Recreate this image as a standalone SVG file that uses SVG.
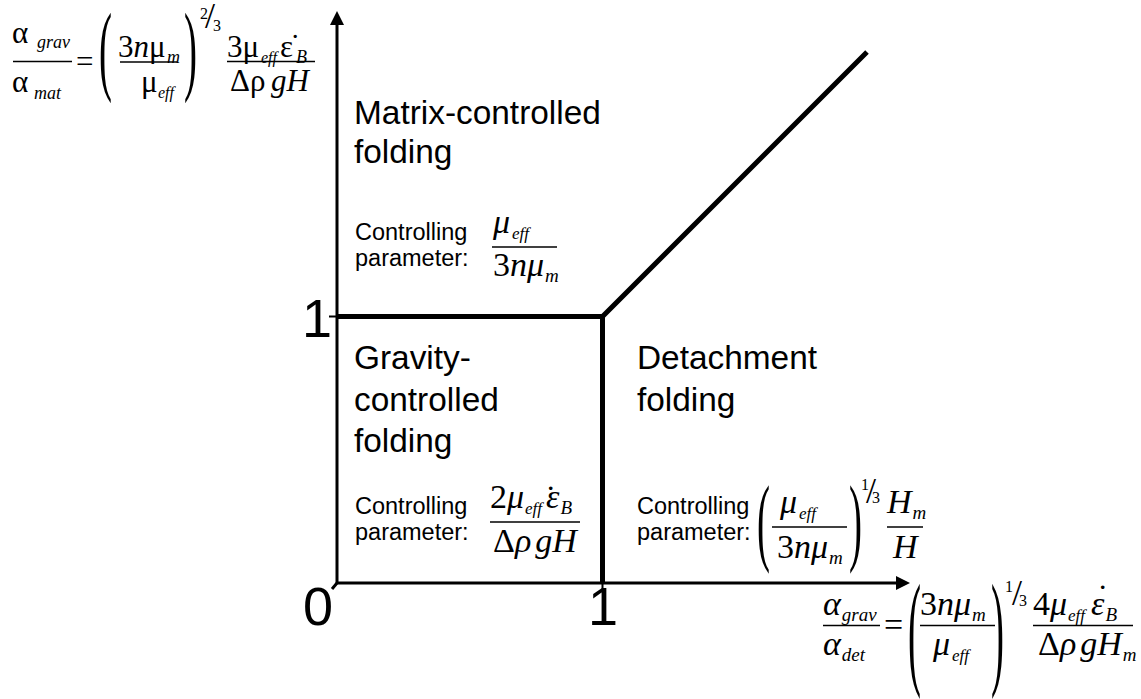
<svg xmlns="http://www.w3.org/2000/svg" width="1141" height="699" viewBox="0 0 1141 699">
<style>
.lbl{font-family:"Liberation Sans",Arial,sans-serif;fill:#000}
.big{font-size:33.4px}
.cp{font-size:23.5px}
.num{font-size:54px}
.m{font-family:"Liberation Serif","Times New Roman",serif;font-size:31px;fill:#000}
.n{font-family:"Liberation Serif","Times New Roman",serif;font-size:34px;fill:#000}
.i{font-style:italic}
.s{font-family:"Liberation Serif","Times New Roman",serif;font-size:18px;font-style:italic;fill:#000}
.sb{font-size:19px;font-style:italic}
.fb{font-size:17px;font-style:italic}
.f{font-family:"Liberation Serif","Times New Roman",serif;font-size:16px;font-style:italic;fill:#000}
.e{font-family:"Liberation Serif","Times New Roman",serif;font-size:16px;fill:#000}
.sl{font-family:"Liberation Serif","Times New Roman",serif;font-size:36px;fill:#000}
.p{font-family:"Liberation Serif","Times New Roman",serif;font-size:26px;fill:#000}
.bar{stroke:#000;stroke-width:1.7}
.axis{stroke:#000;stroke-width:3;fill:none}
.bound{stroke:#000;stroke-width:5;fill:none}
</style>
<defs>
<marker id="arr" viewBox="0 0 14 14" markerWidth="14" markerHeight="14" refX="0" refY="7" orient="auto" markerUnits="userSpaceOnUse">
<path d="M0,0 L14,7 L0,14 z" fill="#000"/>
</marker>
</defs>

<g id="connectors">
<line class="axis" x1="337" y1="584" x2="337" y2="25" marker-end="url(#arr)"/>
<line class="axis" x1="336" y1="583" x2="896" y2="583" marker-end="url(#arr)"/>
<line class="axis" x1="337" y1="583" x2="332" y2="589"/>
<line x1="329" y1="316.5" x2="337" y2="316.5" stroke="#000" stroke-width="2"/>
<line x1="602.5" y1="583" x2="602.5" y2="590" stroke="#000" stroke-width="2"/>
<polyline class="bound" points="337,316.5 602.5,316.5 867,52"/>
<line class="bound" x1="602.5" y1="316.5" x2="602.5" y2="583"/>
</g>

<g id="axis-labels">
<text class="lbl num" x="302" y="337">1</text>
<text class="lbl num" x="303" y="625">0</text>
<text class="lbl num" x="588" y="625">1</text>
</g>

<g id="y-axis-formula">
<text class="m" x="12" y="43">α</text>
<text class="s" x="37" y="48">grav</text>
<line class="bar" x1="13" y1="61.5" x2="72" y2="61.5"/>
<text class="m" x="12" y="92">α</text>
<text class="s" x="34" y="99">mat</text>
<text class="m" x="76" y="72">=</text>
<text class="p" transform="translate(99,82.3) scale(1.5,3.83)">(</text>
<text class="m" x="118" y="57">3<tspan class="i">n</tspan>μ</text>
<text class="s" x="167" y="63">m</text>
<line class="bar" x1="120" y1="62" x2="177" y2="62"/>
<text class="m" x="141" y="92">μ</text>
<text class="f" x="158" y="98">eff</text>
<text class="p" transform="translate(184,82.3) scale(1.5,3.83)">)</text>
<text class="e" x="200" y="19">2</text>
<text class="sl" x="205" y="28">/</text>
<text class="e" x="213" y="31">3</text>
<text class="m" x="227" y="57">3μ</text>
<text class="f" x="261" y="63">eff</text>
<text class="m" x="280" y="57">ε</text>
<text class="m" x="290" y="55.5">˙</text>
<text class="s" x="296" y="63">B</text>
<line class="bar" x1="227" y1="61.5" x2="315" y2="61.5"/>
<text class="m" x="230" y="91">Δρ</text>
<text class="m i" x="271" y="91">gH</text>
</g>

<g id="matrix-region">
<text class="lbl big" x="354" y="124">Matrix-controlled</text>
<text class="lbl big" x="354" y="163">folding</text>
<text class="lbl cp" x="355" y="240">Controlling</text>
<text class="lbl cp" x="355" y="266">parameter:</text>
<text class="n i" x="493" y="233">μ<tspan class="fb" dx="2" dy="6">eff</tspan></text>
<line class="bar" x1="492" y1="247" x2="557" y2="247"/>
<text class="n" x="493" y="276">3<tspan class="i">nμ</tspan><tspan class="sb" dx="1" dy="6">m</tspan></text>
</g>

<g id="gravity-region">
<text class="lbl big" x="354" y="369">Gravity-</text>
<text class="lbl big" x="354" y="411">controlled</text>
<text class="lbl big" x="354" y="452">folding</text>
<text class="lbl cp" x="355" y="514">Controlling</text>
<text class="lbl cp" x="355" y="540">parameter:</text>
<text class="n" x="490" y="508">2<tspan class="i">μ</tspan><tspan class="fb" dx="1" dy="6">eff</tspan><tspan class="i" x="546" dy="-6">ε</tspan><tspan class="sb" dx="1" dy="6">B</tspan></text>
<text class="n" x="545" y="509">˙</text>
<line class="bar" x1="490" y1="522" x2="580" y2="522"/>
<text class="n" x="493" y="552">Δ<tspan class="i">ρ</tspan><tspan class="i" dx="4">gH</tspan></text>
</g>

<g id="detachment-region">
<text class="lbl big" x="637" y="369">Detachment</text>
<text class="lbl big" x="637" y="411">folding</text>
<text class="lbl cp" x="637" y="514">Controlling</text>
<text class="lbl cp" x="637" y="540">parameter:</text>
<text class="p" transform="translate(757,552.7) scale(1.5,3.74)">(</text>
<text class="n i" x="780" y="513">μ<tspan class="fb" dx="2" dy="6">eff</tspan></text>
<line class="bar" x1="772" y1="527" x2="847" y2="527"/>
<text class="n" x="777" y="558">3<tspan class="i">nμ</tspan><tspan class="sb" dx="1" dy="6">m</tspan></text>
<text class="p" transform="translate(849,552.7) scale(1.5,3.74)">)</text>
<text class="e" x="861" y="490">1</text>
<text class="sl" x="866" y="503">/</text>
<text class="e" x="872" y="503">3</text>
<text class="n i" x="887" y="513">H<tspan class="sb" dx="1" dy="6">m</tspan></text>
<line class="bar" x1="887" y1="527" x2="923" y2="527"/>
<text class="n i" x="893" y="558">H</text>
</g>

<g id="x-axis-formula">
<text class="n i" x="823" y="615">α<tspan class="sb" dx="1" dy="6">grav</tspan></text>
<line class="bar" x1="823" y1="625.5" x2="880" y2="625.5"/>
<text class="n i" x="823" y="655">α<tspan class="sb" dx="1" dy="6">det</tspan></text>
<text class="n" x="884" y="636">=</text>
<text class="p" transform="translate(908,672.4) scale(1.5,4.86)">(</text>
<text class="n" x="920" y="615">3<tspan class="i">nμ</tspan><tspan class="sb" dx="1" dy="6">m</tspan></text>
<line class="bar" x1="920" y1="625.5" x2="995" y2="625.5"/>
<text class="n i" x="933" y="655">μ<tspan class="fb" dx="2" dy="6">eff</tspan></text>
<text class="p" transform="translate(991,672.4) scale(1.5,4.86)">)</text>
<text class="e" x="1005" y="592">1</text>
<text class="sl" x="1012" y="605">/</text>
<text class="e" x="1019" y="606">3</text>
<text class="n" x="1033" y="615">4<tspan class="i">μ</tspan><tspan class="fb" dx="1" dy="6">eff</tspan><tspan class="i" x="1091" dy="-6">ε</tspan><tspan class="sb" dx="1" dy="6">B</tspan></text>
<text class="n" x="1097" y="608">˙</text>
<line class="bar" x1="1033" y1="625.5" x2="1133" y2="625.5"/>
<text class="n" x="1038" y="655">Δ<tspan class="i">ρ</tspan><tspan class="i" dx="4">gH</tspan><tspan class="sb" dx="1" dy="6">m</tspan></text>
</g>
</svg>
